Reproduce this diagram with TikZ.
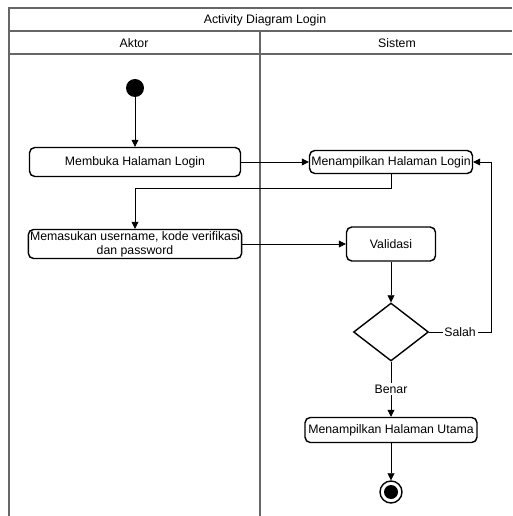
\documentclass[tikz,border=0pt]{standalone}
\usepackage{fontspec}
\setmainfont{Liberation Sans}
\usetikzlibrary{shapes.geometric, arrows.meta}

\begin{document}
\begin{tikzpicture}[x=0.02cm, y=-0.02cm, >={Triangle[length=4pt, width=4pt]}, font=\fontsize{7}{8}\selectfont]
	\tikzstyle{every node} = [inner sep=1pt]
	\tikzstyle{activity} = [draw, rounded corners=3pt, align=center, thick]
	\tikzstyle{lane} = [draw=black!60, line width=0.9pt]
	\useasboundingbox (0, 0) rectangle (512, 516);
	% swimlanes
	\draw [lane] (9, 516) -- (9, 8) -- (512, 8);
	\draw [lane] (9, 31) -- (512, 31);
	\draw [lane] (9, 54) -- (512, 54);
	\draw [lane] (260, 31) -- (260, 516);
	\node (title) at (265, 20) {Activity Diagram Login};
	\node (aktor) at (134, 43) {Aktor};
	\node (sistem) at (397, 43) {Sistem};
	% activities
	\node (start) [circle, fill=black, minimum size=0.36cm] at (135, 88) {};
	\node (buka) [activity, minimum width=4.22cm, minimum height=0.58cm] at (135, 162) {Membuka Halaman Login};
	\node (login) [activity, minimum width=3.26cm, minimum height=0.46cm] at (391, 162) {Menampilkan Halaman Login};
	\node (input) [activity, minimum width=4.16cm, minimum height=0.58cm] at (135, 244) {Memasukan username, kode verifikasi\\dan password};
	\node (validasi) [activity, minimum width=1.78cm, minimum height=0.68cm] at (391, 244) {Validasi};
	\node (cek) [diamond, draw, thick, inner sep=0pt, minimum width=1.5cm, minimum height=1.16cm] at (391, 332) {};
	\node (utama) [activity, minimum width=3.44cm, minimum height=0.5cm] at (391, 430) {Menampilkan Halaman Utama};
	\node (end) [circle, draw, thick, minimum size=0.44cm] at (391, 492) {};
	\fill (end.center) circle (0.14cm);
	\coordinate (k1) at (135, 188);
	\coordinate (k2) at (491, 162);
	% flows
	\draw [->] (start)--(buka);
	\draw [->] (buka)--(login);
	\draw [->] (login.south) |- (k1)--(input);
	\draw [->] (input)--(validasi);
	\draw [->] (validasi)--(cek);
	\draw [->] (cek.east) -| node [pos=0.25, fill=white] {Salah} (k2)--(login.east);
	\draw [->] (cek)-- node [fill=white] {Benar} (utama);
	\draw [->] (utama)--(end);
\end{tikzpicture}
\end{document}
